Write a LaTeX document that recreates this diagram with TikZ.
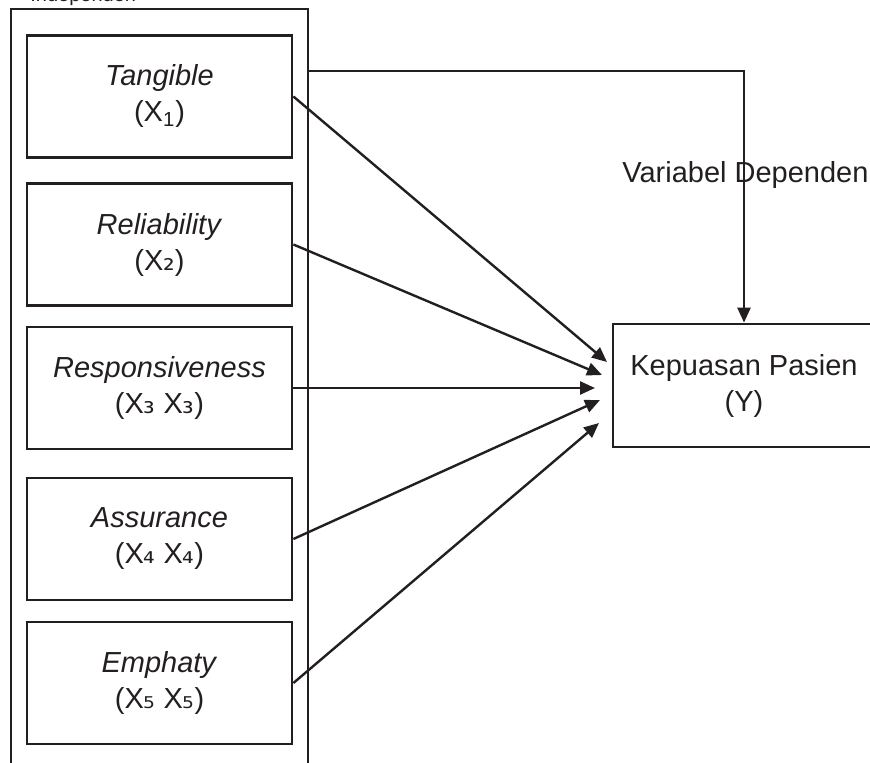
\documentclass[tikz,border=0pt]{standalone}
\usepackage{fontspec}
\setmainfont{Liberation Sans}
\newfontfamily\subdigits{DejaVu Sans}
\usepackage{tikz}
\usetikzlibrary{arrows.meta,positioning}
\definecolor{ink}{RGB}{35,31,32}

\begin{document}
\begin{tikzpicture}[x=0.5pt, y=-0.5pt, font=\fontsize{14.5pt}{18pt}\selectfont,
          varbox/.style={draw=ink, line width=1.4pt, minimum width=132.5pt,
                         minimum height=61pt, inner sep=0pt, align=center, text=ink},
          arr/.style={-{Triangle[length=7.5pt,width=6.5pt]}, draw=ink, line width=1.2pt}]
        \useasboundingbox (0,0) rectangle (870,763);
        % cut-off label above the frame
        \node[anchor=base west, inner sep=0pt, text=ink, font=\fontsize{10pt}{12pt}\selectfont]
          (indep) at (30,1.5) {Independen};
        % frame of the independent variables (open at the bottom)
        \draw[ink, line width=1.4pt] (11,763) -- (11,9) -- (308,9) -- (308,763);
        \coordinate (frameR) at (308,71);
        \node[varbox] (tang)  at (159.5,96.5) {\textit{Tangible}\\(X\textsubscript{1})};
        \node[varbox] (rel)   at (159.5,244.5) {\textit{Reliability}\\(X{\subdigits ₂})};
        \node[varbox] (resp)  at (159.5,388) {\textit{Responsiveness}\\(X{\subdigits ₃} X{\subdigits ₃})};
        \node[varbox] (assur) at (159.5,539) {\textit{Assurance}\\(X{\subdigits ₄} X{\subdigits ₄})};
        \node[varbox] (emph)  at (159.5,683) {\textit{Emphaty}\\(X{\subdigits ₅} X{\subdigits ₅})};
        \node[varbox, minimum width=131pt, minimum height=61.5pt] (Y) at (744,385.5)
          {Kepuasan Pasien\\(Y)};
        \node[anchor=base west, inner sep=0pt, text=ink] (dep) at (622,183) {Variabel Dependen};
        % arrow ends in front of Y
        \coordinate (t1) at (607,362);
        \coordinate (t2) at (602,375);
        \coordinate (t3) at (595,388);
        \coordinate (t4) at (600,400);
        \coordinate (t5) at (599,423);
        \draw[arr] (frameR) -| (Y.north);
        \draw[arr] (tang.east)  -- (t1);
        \draw[arr] (rel.east)   -- (t2);
        \draw[arr] (resp.east)  -- (t3);
        \draw[arr] (assur.east) -- (t4);
        \draw[arr] (emph.east)  -- (t5);
      \end{tikzpicture}
\end{document}
